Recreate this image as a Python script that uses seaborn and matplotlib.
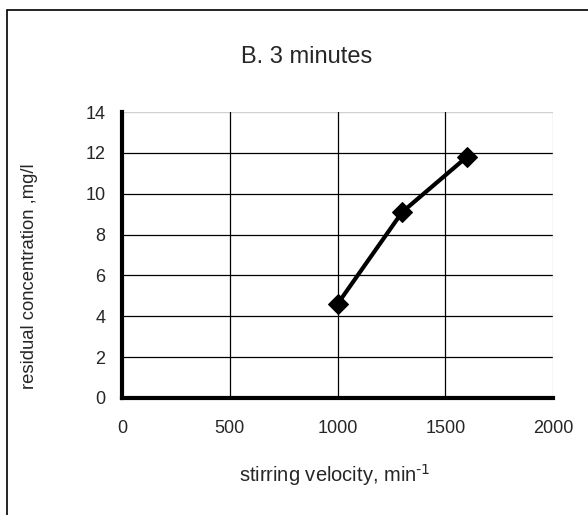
import numpy as np
import pandas as pd
import matplotlib
matplotlib.use("Agg")
import matplotlib.pyplot as plt
import seaborn as sns

# data
velocity = [1000, 1300, 1600]
concentration = [4.6, 9.1, 11.8]
x_ticks = [0, 500, 1000, 1500, 2000]
y_ticks = [0, 2, 4, 6, 8, 10, 12, 14]

sns.set_style("white")
plt.rcParams['font.family'] = ['Liberation Sans', 'DejaVu Sans']

df = pd.DataFrame({'velocity': velocity, 'conc': concentration})

fig = plt.figure(figsize=(5.88, 5.15), dpi=100)
ax = fig.add_axes([0.2075, 0.2272, 0.733, 0.5553])

# outer chart border (Excel style frame)
fig.patches.append(plt.Rectangle((7 / 588, -0.1), 1.2, 1 - 10 / 515 + 0.1,
                                 transform=fig.transFigure, fill=False,
                                 edgecolor='black', linewidth=1.2))

sns.lineplot(data=df, x='velocity', y='conc', ax=ax, color='black',
             linewidth=3, marker='D', markersize=10.5, markeredgecolor='black',
             zorder=5)

ax.set_xlim(0, 2000)
ax.set_ylim(0, 14)
ax.set_xticks(x_ticks)
ax.set_yticks(y_ticks)
ax.tick_params(labelsize=13, length=3, width=2.5, direction='out',
               color='black')
ax.tick_params(axis='y', pad=9)
ax.tick_params(axis='x', pad=13)

for v in y_ticks[1:-1]:
    ax.axhline(v, color='black', linewidth=0.9, zorder=1)
ax.axhline(14, color='#d0d0d0', linewidth=1, zorder=1)
for v in x_ticks[1:-1]:
    ax.axvline(v, color='black', linewidth=0.9, zorder=1)
ax.axvline(2000, color='#d0d0d0', linewidth=1, zorder=1)

for s in ['top', 'right']:
    ax.spines[s].set_visible(False)
for s in ['left', 'bottom']:
    ax.spines[s].set_color('black')
    ax.spines[s].set_linewidth(3)

ax.set_xlabel(r'stirring velocity, min$^{\text{-1}}$', fontsize=14.5, va='top')
ax.xaxis.set_label_coords(0.494, -0.224)
ax.set_ylabel('residual concentration ,mg/l', fontsize=13.3)
ax.yaxis.set_label_coords(-0.195, 0.427)
fig.text(307 / 588, 1 - 63 / 515, 'B. 3 minutes', fontsize=17,
         ha='center', va='baseline')

fig.savefig('out.png', dpi=100)
